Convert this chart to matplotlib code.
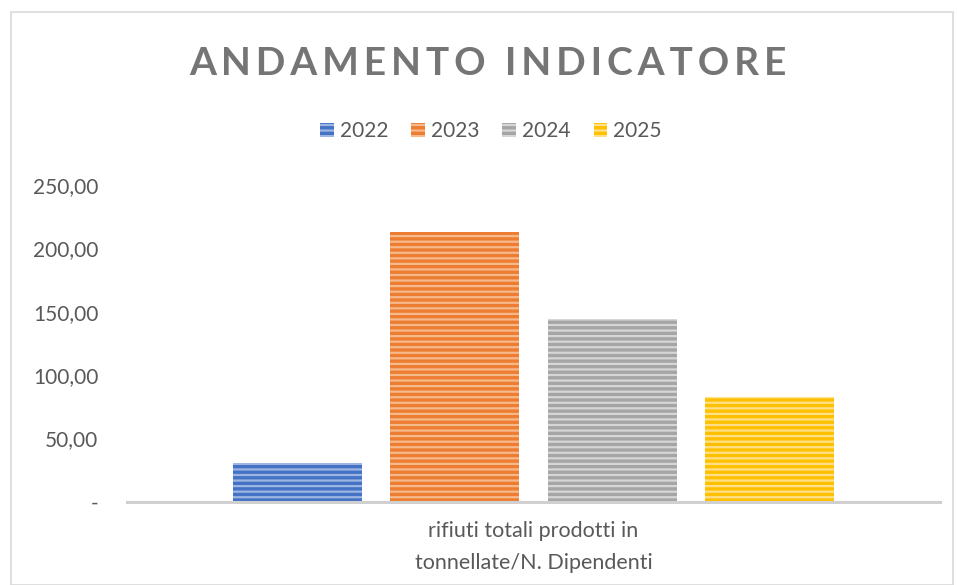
import matplotlib.pyplot as plt
from matplotlib.patches import Rectangle

anni = ['2022', '2023', '2024', '2025']
valori = [30.8, 213.0, 144.2, 82.6]
colori = ['#4472C4', '#ED7D31', '#A5A5A5', '#FFC000']
righe = ['#9DB5E3', '#F6B98C', '#D6D6D6', '#FFE08A']
categoria = 'rifiuti totali prodotti in\ntonnellate/N. Dipendenti'
titolo = 'ANDAMENTO INDICATORE'
yticks = [0, 50, 100, 150, 200, 250]

plt.rcParams['font.family'] = ['Lato', 'DejaVu Sans']
plt.rcParams['hatch.linewidth'] = 1.6

fig = plt.figure(figsize=(9.57, 5.85), dpi=100)
ax = fig.add_axes([0.1327, 0.1419, 0.8496, 0.5419])

pos = [0, 1, 2, 3]
for i in range(len(anni)):
    ax.bar(pos[i], valori[i], width=0.82, color=colori[i], edgecolor=righe[i],
           linewidth=0, hatch='---', label=anni[i])

ax.set_xlim(-1.084, 4.084)
ax.set_ylim(0, 250)
ax.set_yticks(yticks)
ax.set_yticklabels(['-' if v == 0 else f'{v:.2f}'.replace('.', ',') for v in yticks])
ax.set_xticks([1.5])
ax.set_xticklabels([categoria], linespacing=1.75)
ax.tick_params(axis='y', length=0, pad=20.5, labelsize=15, labelcolor='#595959')
ax.tick_params(axis='x', length=0, pad=14, labelsize=15.5, labelcolor='#595959')
for s in ['top', 'right', 'left']:
    ax.spines[s].set_visible(False)
ax.spines['bottom'].set_color('#D0D0D0')
ax.spines['bottom'].set_linewidth(2.2)

# spaziatura tra le lettere del titolo
titolo_sp = '\u2009\u2009 '.join('\u2009'.join(p) for p in titolo.split(' '))
fig.text(0.510, 0.892, titolo_sp, ha='center', va='center',
         fontsize=28, fontweight='bold', color='#757575')

fig.legend(loc='center', bbox_to_anchor=(0.513, 0.776), ncol=4, frameon=False,
           fontsize=15, labelcolor='#595959', handlelength=0.65, handleheight=0.65,
           handletextpad=0.3, columnspacing=1.1)

fig.patches.append(Rectangle((0.011, 0.0), 0.985, 0.979, transform=fig.transFigure,
                             fill=False, edgecolor='#D9D9D9', linewidth=1.2))

fig.savefig('out.png', dpi=100)
